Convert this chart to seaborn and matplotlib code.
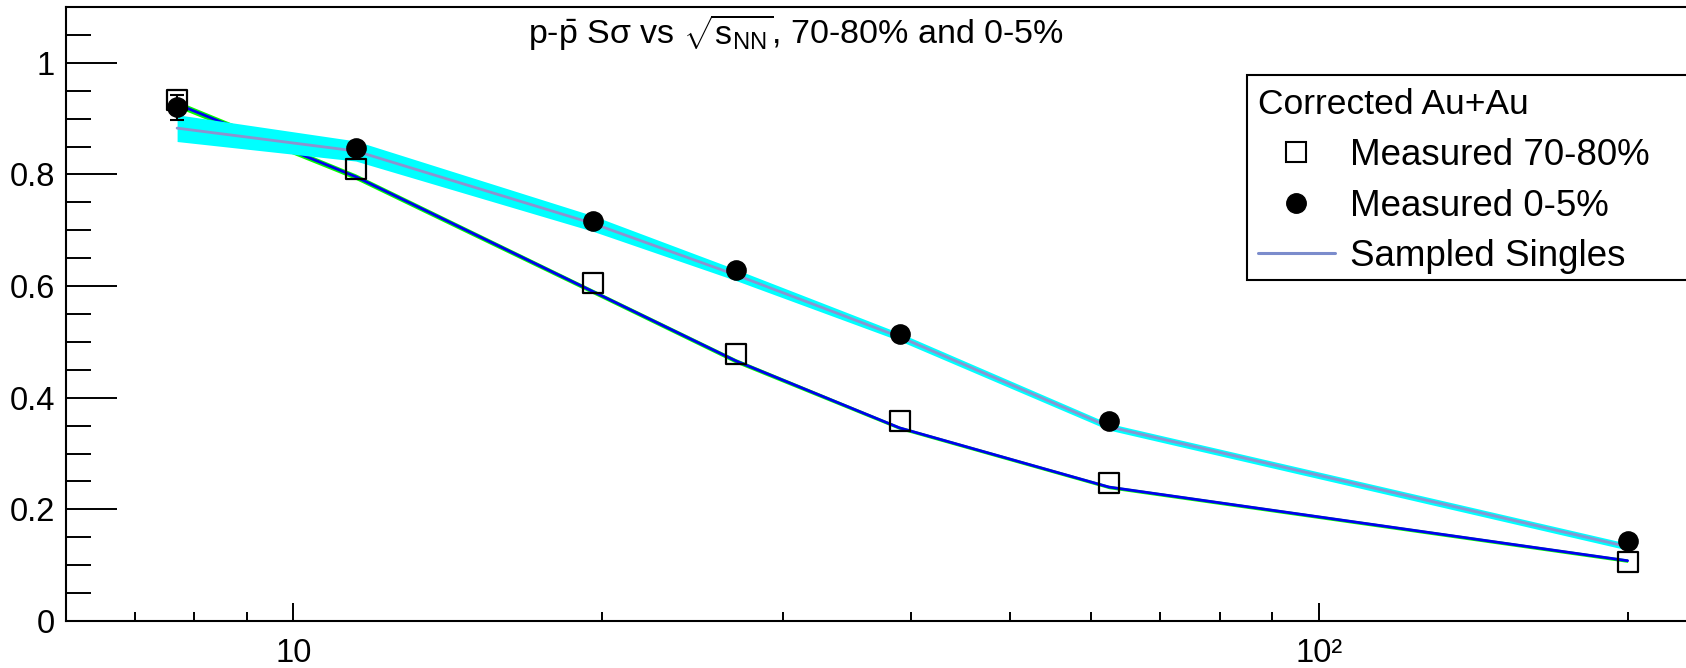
import numpy as np
import pandas as pd
import matplotlib
matplotlib.use("Agg")
import matplotlib.pyplot as plt
import seaborn as sns
from matplotlib.ticker import FixedLocator, FuncFormatter, MultipleLocator
from matplotlib.lines import Line2D
from matplotlib.patches import Rectangle

# Data
energies = [7.7, 11.5, 19.6, 27, 39, 62.4, 200]
meas_70_80 = [0.934, 0.810, 0.606, 0.478, 0.358, 0.247, 0.105]
meas_0_5 = [0.920, 0.847, 0.716, 0.629, 0.514, 0.359, 0.144]
meas_0_5_err = [0.022, 0.004, 0.004, 0.004, 0.003, 0.003, 0.003]
singles_70_80 = [0.926, 0.796, 0.590, 0.466, 0.346, 0.240, 0.108]
singles_70_80_band = [0.006, 0.005, 0.004, 0.004, 0.003, 0.003, 0.003]
singles_0_5 = [0.883, 0.842, 0.712, 0.620, 0.509, 0.348, 0.133]
singles_0_5_band = [0.024, 0.018, 0.014, 0.010, 0.007, 0.006, 0.006]

df = pd.DataFrame({
    "energy": energies,
    "m70": meas_70_80,
    "m05": meas_0_5, "m05_err": meas_0_5_err,
    "s70": singles_70_80, "s70_band": singles_70_80_band,
    "s05": singles_0_5, "s05_band": singles_0_5_band,
})

sns.set_style("ticks")
plt.rcParams["font.family"] = ["Liberation Sans", "DejaVu Sans"]
plt.rcParams["mathtext.fontset"] = "custom"
plt.rcParams["mathtext.rm"] = "Liberation Sans"
plt.rcParams["mathtext.sf"] = "Liberation Sans"
plt.rcParams["mathtext.it"] = "Liberation Sans:italic"
plt.rcParams["text.color"] = "black"
plt.rcParams["xtick.color"] = "black"
plt.rcParams["ytick.color"] = "black"

W, H = 1686, 668
fig = plt.figure(figsize=(W / 100, H / 100), dpi=100)
ax = fig.add_axes([66 / W, 47 / H, (1727 - 66) / W, 614 / H])

# 70-80% sampled singles: green band with blue line
ax.fill_between(df["energy"], df["s70"] - df["s70_band"], df["s70"] + df["s70_band"],
                color="#00ff00", lw=0, zorder=1)
sns.lineplot(data=df, x="energy", y="s70", color="#0000ee", lw=2.0, ax=ax, zorder=2,
             estimator=None, sort=False)

# 0-5% sampled singles: cyan band with lavender line
ax.fill_between(df["energy"], df["s05"] - df["s05_band"], df["s05"] + df["s05_band"],
                color="#00ffff", lw=0, zorder=3)
sns.lineplot(data=df, x="energy", y="s05", color="#8c93cf", lw=2.0, ax=ax, zorder=4,
             estimator=None, sort=False)

# measured points
ax.errorbar(df["energy"], df["m05"], yerr=df["m05_err"], fmt="none", ecolor="black",
            elinewidth=1.5, capsize=5, capthick=1.5, zorder=6)
sns.scatterplot(data=df, x="energy", y="m70", marker="s", s=210, facecolor="none",
                edgecolor="black", linewidth=1.6, ax=ax, zorder=7)
sns.scatterplot(data=df, x="energy", y="m05", marker="o", s=190, color="black",
                edgecolor="black", ax=ax, zorder=8)

ax.set_xscale("log")
ax.set_xlim(6, 250)
ax.set_ylim(0, 1.1)
ax.set_xlabel("")
ax.set_ylabel("")

ax.xaxis.set_major_locator(FixedLocator([10, 100]))
ax.xaxis.set_major_formatter(FuncFormatter(lambda v, p: "10" if v < 50 else "10\u00b2"))
ax.xaxis.set_minor_locator(FixedLocator([7, 8, 9, 20, 30, 40, 50, 60, 70, 80, 90, 200]))
ax.xaxis.set_minor_formatter(FuncFormatter(lambda v, p: ""))
ax.yaxis.set_major_locator(MultipleLocator(0.2))
ax.yaxis.set_minor_locator(MultipleLocator(0.05))
ax.yaxis.set_major_formatter(FuncFormatter(
    lambda v, p: "0" if abs(v) < 1e-9 else ("1" if abs(v - 1) < 1e-9 else f"{v:.1f}")))

ax.tick_params(axis="both", which="both", left=True, bottom=True, top=False, right=False,
               colors="black")
ax.tick_params(axis="y", which="major", direction="in", length=37, width=1.4, labelsize=23.5, pad=8)
ax.tick_params(axis="y", which="minor", direction="in", length=18, width=1.4)
ax.tick_params(axis="x", which="major", direction="in", length=13, width=1.4, labelsize=23.5, pad=12)
ax.tick_params(axis="x", which="minor", direction="in", length=6.5, width=1.4)
for side in ["left", "bottom", "top", "right"]:
    ax.spines[side].set_visible(True)
    ax.spines[side].set_color("black")
    ax.spines[side].set_linewidth(1.5)

fig.text(796 / W, 1 - 33 / H,
         r"p-$\bar{\mathrm{p}}$ S$\mathrm{\sigma}$ vs $\sqrt{\mathrm{s}_{\mathrm{NN}}}$, 70-80% and 0-5%",
         ha="center", va="center", fontsize=24.5)

# legend box (ROOT style, runs off the right edge)
fig.patches.append(Rectangle((1247 / W, 1 - 280 / H), 0.5, (280 - 75) / H,
                             transform=fig.transFigure, facecolor="white",
                             edgecolor="black", lw=1.5, zorder=9))

handles = [
    Line2D([], [], ls="none", marker="s", markersize=14.5, markerfacecolor="none",
           markeredgecolor="black", markeredgewidth=1.5),
    Line2D([], [], ls="none", marker="o", markersize=14, color="black"),
    Line2D([], [], color="#7b8ccc", lw=2.2),
]
labels = ["Measured 70-80%", "Measured 0-5%", "Sampled Singles"]
leg = fig.legend(handles, labels, title="Corrected Au+Au", loc="upper left",
                 bbox_to_anchor=(1247 / W, 1 - 77 / H), bbox_transform=fig.transFigure,
                 fontsize=26.5, title_fontsize=25.5, alignment="left",
                 frameon=False, handlelength=2.08,
                 handletextpad=0.43, labelspacing=0.43, borderpad=0.3, borderaxespad=0)
leg.set_zorder(10)
leg.get_title().set_color("black")
for t in leg.get_texts():
    t.set_color("black")
leg._legend_box.sep = 12

fig.savefig("out.png", dpi=100)
